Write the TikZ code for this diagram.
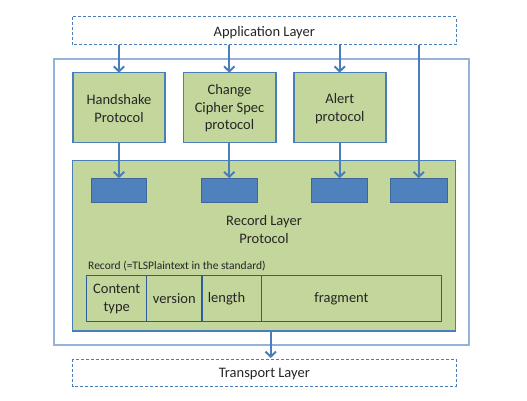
\documentclass[tikz,border=0pt]{standalone}
\usepackage{fontspec}
\setmainfont{Carlito}
\usetikzlibrary{arrows.meta}
\definecolor{lgreen}{HTML}{C3D69B}
\definecolor{bblue}{HTML}{4A7EBB}
\definecolor{fblue}{HTML}{4F81BD}
\definecolor{dblue}{HTML}{385D8A}
\definecolor{oblue}{HTML}{95B3D7}
\definecolor{tblue}{HTML}{2E5C9A}
\tikzset{
  dashbox/.style={draw=bblue, line width=1pt, dash pattern=on 3pt off 2pt},
  protbox/.style={draw=bblue, fill=lgreen, line width=1.6pt},
  recbox/.style={draw=fblue!80!black, fill=fblue, line width=1pt},
  conn/.style={draw=bblue, line width=2.3pt, -{Straight Barb[length=5pt,width=10.5pt,line width=2pt]}},
  lbl/.style={font=\fontsize{14.5}{17.5}\selectfont, text=black!85, align=center},
  cell/.style={draw=tblue, line width=1.4pt}
}
\begin{document}
\begin{tikzpicture}[x=1pt,y=-1pt]
\useasboundingbox (0,0) rectangle (527,401);
% application layer
\draw[dashbox] (72.7,16.7) rectangle (456,45);
\node[lbl] (app) at (264.3,32.5) {Application Layer};
\coordinate (appb1) at (119,45);
\coordinate (appb2) at (229.3,45);
\coordinate (appb3) at (339.7,45);
\coordinate (appb4) at (418.7,45);
% outer box
\draw[draw=oblue, line width=1.6pt] (54,59) rectangle (469,345);
% protocol boxes
\draw[protbox] (72.7,72.7) rectangle (165,142.3);
\draw[protbox] (183.3,72.7) rectangle (275.7,142.3);
\draw[protbox] (293.7,72.7) rectangle (386,142.3);
\node[lbl] (hs) at (119,108.5) {Handshake\\Protocol};
\node[lbl] (ccs) at (229.5,108.5) {Change\\Cipher Spec\\protocol};
\node[lbl] (al) at (339.8,108.5) {Alert\\protocol};
\coordinate (hst) at (119,72.7); \coordinate (hsb) at (119,142.3);
\coordinate (ccst) at (229.3,72.7); \coordinate (ccsb) at (229.3,142.3);
\coordinate (alt) at (339.7,72.7); \coordinate (alb) at (339.7,142.3);
% record layer
\draw[protbox, line width=1.4pt] (72.7,160.7) rectangle (455.3,331);
\node[recbox, minimum width=55.7pt, minimum height=23.6pt, inner sep=0pt] (r1) at (119,190.5) {};
\node[recbox, minimum width=56pt, minimum height=23.6pt, inner sep=0pt] (r2) at (229.3,190.5) {};
\node[recbox, minimum width=56pt, minimum height=23.6pt, inner sep=0pt] (r3) at (339.7,190.5) {};
\node[recbox, minimum width=56.7pt, minimum height=23.6pt, inner sep=0pt] (r4) at (418.7,190.5) {};
\node[lbl] (rlp) at (264,229.5) {Record Layer\\Protocol};
\node[anchor=west, font=\fontsize{11.5}{13}\selectfont, text=black!85, inner sep=0pt] (rec) at (88,266.5) {Record (=TLSPlaintext in the standard)};
% record table
\draw[cell] (86.7,275.3) rectangle (441.7,321.3);
\draw[cell] (146.7,275.3) -- (146.7,321.3);
\draw[cell] (202,275.3) -- (202,321.3);
\draw[cell] (261.7,275.3) -- (261.7,321.3);
\node[lbl] (ct) at (116.7,299) {Content\\type};
\node[lbl] (ver) at (174.3,298.5) {version};
\node[lbl] (len) at (226.5,298.5) {length};
\node[lbl] (frag) at (341.5,298.5) {fragment};
% transport layer
\draw[dashbox] (72.7,359) rectangle (456,386.3);
\node[lbl] (tr) at (264.3,374) {Transport Layer};
\coordinate (rlb) at (270.7,331);
\coordinate (trt) at (270.7,358);
% connectors
\draw[conn] (appb1) -- (hst);
\draw[conn] (appb2) -- (ccst);
\draw[conn] (appb3) -- (alt);
\draw[conn] (appb4) -- (r4.north);
\draw[conn] (hsb) -- (r1.north);
\draw[conn] (ccsb) -- (r2.north);
\draw[conn] (alb) -- (r3.north);
\draw[conn] (rlb) -- (trt);
\end{tikzpicture}
\end{document}
